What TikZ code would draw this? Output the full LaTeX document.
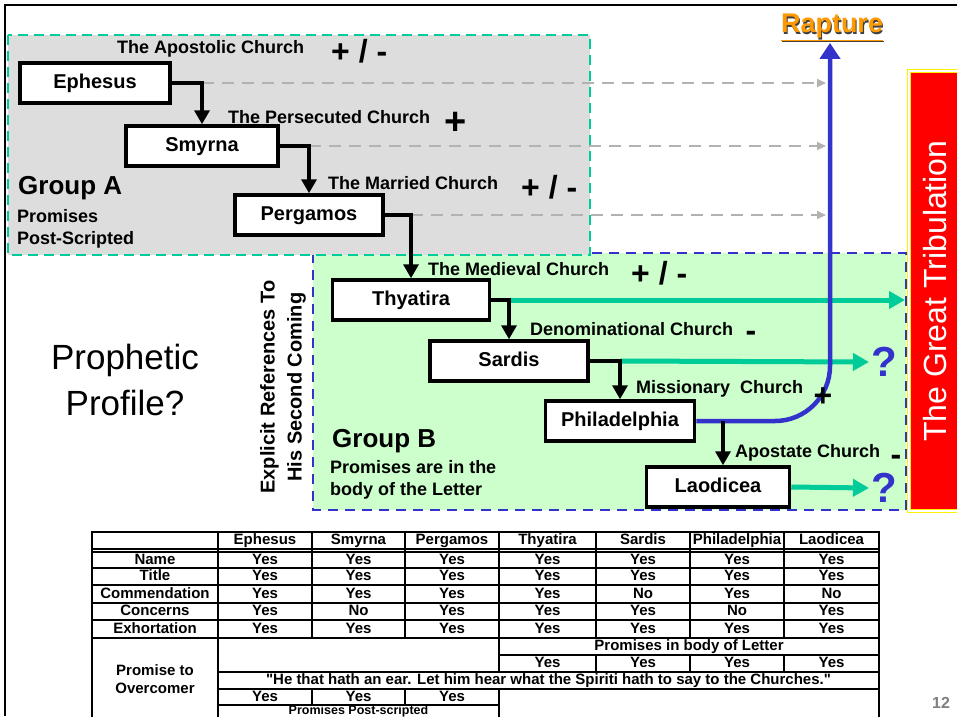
\documentclass[tikz,border=0pt]{standalone}
\usepackage{fontspec}
\setmainfont{Liberation Sans}[Ligatures=TeXOff]
\usetikzlibrary{arrows.meta}
\definecolor{tealA}{HTML}{00CC99}
\definecolor{blueB}{HTML}{3333CC}
\definecolor{grayA}{HTML}{DDDDDD}
\definecolor{greenB}{HTML}{CCFFCC}
\definecolor{fadegray}{HTML}{B2B2B2}
\definecolor{orangeR}{HTML}{FF9900}
\newcommand\shadowed[1]{\makebox[0pt][l]{\kern1.2pt\raisebox{-1.2pt}{\color{black!75}#1}}#1}
\tikzset{
  church/.style={draw, line width=3.5pt, fill=white, minimum height=40pt, inner sep=0pt,
    text height=15pt, text depth=4pt, font=\fontsize{20}{22}\selectfont\bfseries},
  era/.style={anchor=west, inner sep=0pt, font=\fontsize{18}{20}\selectfont\bfseries},
  sign/.style={inner sep=0pt, text height=22pt, text depth=0pt, font=\fontsize{32}{34}\selectfont\bfseries},
  flow/.style={line width=4.5pt, -{Triangle[width=15pt,length=14pt]}},
  fade/.style={draw=fadegray, line width=2pt, dash pattern=on 12pt off 8pt,
    -{Triangle[width=8pt,length=9pt]}},
  open/.style={draw=tealA, line width=5pt, -{Triangle[width=17pt,length=16pt]}},
  rapt/.style={draw=blueB, line width=4.5pt, rounded corners=55pt,
    -{Triangle[width=20pt,length=16pt]}},
  cell/.style={inner sep=0pt, text height=11pt, text depth=3pt, font=\fontsize{15}{17}\selectfont\bfseries},
  grid/.style={line width=1.3pt},
}
\begin{document}
\begin{tikzpicture}[x=1pt,y=-1pt]
\clip (0,0) rectangle (957,716);
\fill[white] (0,0) rectangle (957,716);
\draw[line width=2pt] (5,716) -- (5,5) -- (957,5);
\draw[fill=greenB, draw=blueB, line width=2.5pt, dash pattern=on 10pt off 7pt] (313,253) rectangle (906,510);
\draw[fill=grayA, draw=tealA, line width=2.5pt, dash pattern=on 10pt off 6pt] (8,35) rectangle (590,255);

\node[rotate=90, fill=red, draw=yellow, double=white, double distance=1.5pt, line width=1.2pt,
  minimum width=440pt, minimum height=52pt, text=white, font=\fontsize{32}{34}\selectfont] (trib) at (935,291) {The Great Tribulation};

\node[church, minimum width=150pt] (ephesus) at (95,83) {Ephesus};
\node[church, minimum width=152pt] (smyrna) at (202,146) {Smyrna};
\node[church, minimum width=148pt] (pergamos) at (309,215) {Pergamos};
\node[church, minimum width=157pt] (thyatira) at (411,300) {Thyatira};
\node[church, minimum width=158pt] (sardis) at (509,361) {Sardis};
\node[church, minimum width=149pt] (philadelphia) at (620,421) {Philadelphia};
\node[church, minimum width=143pt] (laodicea) at (718,487) {Laodicea};

\node[text=orangeR, inner sep=1pt, font=\fontsize{27}{29}\selectfont\bfseries] (rapture) at (832,28) {\shadowed{\underline{Rapture}}};
\node[text=blueB, inner sep=2pt, font=\fontsize{42}{44}\selectfont\bfseries] (q1) at (884,362) {?};
\node[text=blueB, inner sep=2pt, font=\fontsize{42}{44}\selectfont\bfseries] (q2) at (884,488) {?};
\coordinate (reach) at (826,0);
\coordinate (wall) at (905,0);

\draw[fade] (ephesus.east -| smyrna.north) -- (ephesus.east -| reach);
\draw[fade] (smyrna.east -| pergamos.north) -- (smyrna.east -| reach);
\draw[fade] (pergamos.east -| thyatira.north) -- (pergamos.east -| reach);
\draw[open] (thyatira.east -| sardis.north) -- (thyatira.east -| wall);
\draw[open] (sardis.east -| philadelphia.north) -- (q1.west);
\draw[open] (laodicea.east) -- (q2.west);
\draw[rapt] (philadelphia.east) -| (rapture.south -| 830,0);
\draw[flow] (ephesus.east) -| (smyrna.north);
\draw[flow] (smyrna.east) -| (pergamos.north);
\draw[flow] (pergamos.east) -| (thyatira.north);
\draw[flow] (thyatira.east) -| (sardis.north);
\draw[flow] (sardis.east) -| (philadelphia.north);
\draw[flow] (philadelphia.east -| 723,0) -- (laodicea.north -| 723,0);

\node[era] (apostolic) at (117,49) {The Apostolic Church};
\node[sign, anchor=west] (apostolicsign) at (331,51) {+ / -};
\node[era] (persecuted) at (228,117) {The Persecuted Church};
\node[sign, text height=26pt, font=\fontsize{38}{40}\selectfont\bfseries] (persecutedsign) at (456,121) {+};
\node[era] (married) at (328,183) {The Married Church};
\node[sign, anchor=west] (marriedsign) at (521,187) {+ / -};
\node[era] (medieval) at (428,269) {The Medieval Church};
\node[sign, anchor=west] (medievalsign) at (631,273) {+ / -};
\node[era] (denominational) at (530,329) {Denominational Church};
\node[sign] (denominationalsign) at (751,330) {-};
\node[era] (missionary) at (636,389) {Missionary~ Church};
\node[sign] (missionarysign) at (823,395) {+};
\node[era] (apostate) at (735,453) {Apostate Church};
\node[sign] (apostatesign) at (896,454) {-};

\node[anchor=west, inner sep=0pt, font=\fontsize{26}{28}\selectfont\bfseries] (groupa) at (18,188) {Group A};
\node[anchor=west, inner sep=0pt, align=left, font=\fontsize{18}{22}\selectfont\bfseries] (groupanote) at (17,229) {Promises\\Post-Scripted};
\node[anchor=west, inner sep=0pt, font=\fontsize{26}{28}\selectfont\bfseries] (groupb) at (332,441) {Group B};
\node[anchor=west, inner sep=0pt, align=left, font=\fontsize{18}{22}\selectfont\bfseries] (groupbnote) at (330,480) {Promises are in the\\body of the Letter};
\node[align=center, font=\fontsize{35}{46}\selectfont] (profile) at (125,380) {Prophetic\\Profile?};
\node[rotate=90, align=center, font=\fontsize{20}{27}\selectfont\bfseries] (explicit) at (283,387) {Explicit References To\\His Second Coming};

\draw[grid] (92,532) rectangle (879,720);
\foreach \y in {549,552,568,585,603,620,638}
  \draw[grid] (92,\y) -- (879,\y);
\draw[grid] (499,655) -- (879,655) (218,672) -- (879,672) (218,689) -- (879,689) (218,705) -- (499,705);
\draw[grid] (218,532) -- (218,720) (499,532) -- (499,672) (499,689) -- (499,720);
\foreach \x in {312,405,596,690,784}
  \draw[grid] (\x,532) -- (\x,638);
\foreach \x in {312,405}
  \draw[grid] (\x,689) -- (\x,705);
\foreach \x in {596,690,784}
  \draw[grid] (\x,655) -- (\x,672);

\foreach \x/\church/\a/\b/\c/\d/\e [count=\i] in {265/Ephesus/Yes/Yes/Yes/Yes/Yes,
    358.5/Smyrna/Yes/Yes/Yes/No/Yes, 452/Pergamos/Yes/Yes/Yes/Yes/Yes,
    547.5/Thyatira/Yes/Yes/Yes/Yes/Yes, 643/Sardis/Yes/Yes/No/Yes/Yes,
    737/Philadelphia/Yes/Yes/Yes/No/Yes, 831.5/Laodicea/Yes/Yes/No/Yes/Yes}{
  \node[cell] (head\i) at (\x,540.5) {\church};
  \node[cell] (name\i) at (\x,560) {\a};
  \node[cell] (title\i) at (\x,576.5) {\b};
  \node[cell] (comm\i) at (\x,594) {\c};
  \node[cell] (conc\i) at (\x,611.5) {\d};
  \node[cell] (exho\i) at (\x,629) {\e};
}
\foreach \lab/\y [count=\i] in {Name/560, Title/576.5, Commendation/594, Concerns/611.5, Exhortation/629}
  \node[cell] (row\i) at (155,\y) {\lab};
\node[cell, text height=, text depth=, align=center, font=\fontsize{15}{18}\selectfont\bfseries] (overcomer) at (155,679) {Promise to\\Overcomer};
\node[cell] (inbody) at (689,646.5) {Promises in body of Letter};
\foreach \x [count=\i] in {547.5,643,737,831.5}
  \node[cell] (late\i) at (\x,663.5) {Yes};
\node[cell] (ear) at (548.5,680.5) {"He that hath an ear. Let him hear what the Spiriti hath to say to the Churches."};
\foreach \x [count=\i] in {265,358.5,452}
  \node[cell] (early\i) at (\x,697) {Yes};
\node[cell, text height=9pt, text depth=2pt, font=\fontsize{12.5}{14}\selectfont\bfseries] (postscript) at (358.5,710.5) {Promises Post-scripted};
\node[text=black!50, font=\fontsize{16}{18}\selectfont\bfseries] (page) at (941,703) {12};
\end{tikzpicture}
\end{document}
